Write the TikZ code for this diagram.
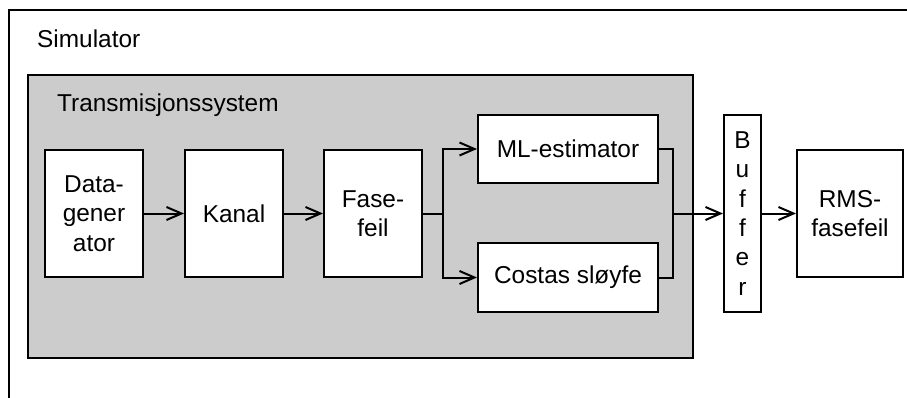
\documentclass[tikz,border=0pt]{standalone}
\usepackage{fontspec}
\setmainfont{Liberation Sans}
\usetikzlibrary{arrows.meta}
\begin{document}
\begin{tikzpicture}[x=1pt,y=-1pt,
  font=\fontsize{24.4}{29.3}\selectfont,
  blk/.style={draw,line width=2pt,fill=white,inner sep=0pt,align=center},
  conn/.style={line width=2pt},
  arr/.style={line width=2pt,-{Straight Barb[length=15pt,width=13pt,line width=2pt]}},
  lbl/.style={anchor=base west,inner sep=0pt}]
\clip (0,0) rectangle (907,398);
\fill[white] (0,0) rectangle (907,398);
\draw[line width=2pt] (9,10) rectangle (1000,1000);
\node[lbl] (sim) at (37,48) {Simulator};
\draw[line width=2pt,fill={rgb,255:red,204;green,204;blue,204}] (28,75) rectangle (693,358);
\node[lbl] (trans) at (57,112) {Transmisjonssystem};
\node[blk,minimum width=98pt,minimum height=127pt] (data) at (94,213.5) {Data-\\gener\\ator};
\node[blk,minimum width=98pt,minimum height=127pt] (kanal) at (234,213.5) {Kanal};
\node[blk,minimum width=98pt,minimum height=127pt] (fase) at (373,213.5) {Fase-\\feil};
\node[blk,minimum width=180pt,minimum height=68pt] (ml) at (568,149) {ML-estimator};
\node[blk,minimum width=180pt,minimum height=69pt] (costas) at (568,277.5) {Costas sløyfe};
\node[blk,minimum width=37pt,minimum height=197pt] (buf) at (742.5,213.5) {B\\u\\f\\f\\e\\r};
\node[blk,minimum width=106pt,minimum height=127pt] (rms) at (850,213.5) {RMS-\\fasefeil};
\coordinate (split) at (443,213.5);
\coordinate (join) at (673,213.5);
\draw[arr] (data) -- (kanal);
\draw[arr] (kanal) -- (fase);
\draw[conn] (fase.east) -- (split);
\draw[arr] (split) |- (ml.west);
\draw[arr] (split) |- (costas.west);
\draw[conn] (ml.east) -| (join);
\draw[conn] (costas.east) -| (join);
\draw[arr] (join) -- (buf.west);
\draw[arr] (buf.east) -- (rms.west);
\end{tikzpicture}
\end{document}
